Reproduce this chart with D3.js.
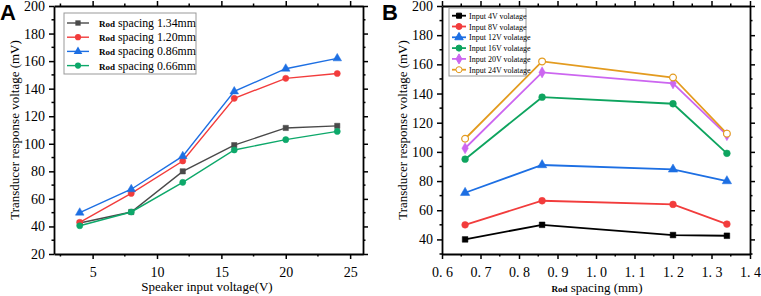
<!DOCTYPE html>
<html>
<head>
<meta charset="utf-8">
<style>
  body, html { margin: 0; padding: 0; background: #fff; }
  svg text { font-family: "Liberation Serif", "DejaVu Serif", serif; fill: #000; }
  .tick-label { font-size: 14px; }
  .axis-title { font-size: 13px; }
  .panel-letter { font-family: "Liberation Sans", Arial, sans-serif; font-weight: bold; font-size: 22px; }
  .rod { font-weight: bold; font-size: 9px; }
</style>
<script src="https://d3js.org/d3.v7.min.js"></script>
</head>
<body>
<svg width="761" height="296"></svg>
<script>
// ---- panel A data: response vs speaker input voltage
const voltages = [4, 8, 12, 16, 20, 24];
const spacingNames = ["1.34mm", "1.20mm", "0.86mm", "0.66mm"];
const sp134 = [42.5, 50.5, 80, 99, 111.5, 113];
const sp120 = [43, 64, 87.5, 133, 147.5, 151];
const sp086 = [50, 67, 91, 138, 154.5, 162];
const sp066 = [40.5, 50.5, 72, 95.5, 103, 109];

// ---- panel B data: response vs rod spacing
const spacings = [0.66, 0.86, 1.2, 1.34];
const inputNames = ["Input 4V volatage", "Input 8V volatage", "Input 12V volatage",
                    "Input 16V volatage", "Input 20V volatage", "Input 24V volatage"];
const in4 = [40, 50, 43, 42.5];
const in8 = [50, 66.5, 64, 50.5];
const in12 = [72, 91, 88, 80];
const in16 = [95, 137.5, 133, 99];
const in20 = [102.5, 154.5, 147, 111.5];
const in24 = [109, 162, 151, 112.5];

// tick values
const aXTicks = [5, 10, 15, 20, 25];
const aYTicks = [20, 40, 60, 80, 100, 120, 140, 160, 180, 200];
const bXTicks = [0.6, 0.7, 0.8, 0.9, 1.0, 1.1, 1.2, 1.3, 1.4];
const bYTicks = [40, 60, 80, 100, 120, 140, 160, 180, 200];

const svg = d3.select("svg");

function drawAxes(x, y, xTicks, xMinor, yTicks, yMinor, xFmt) {
  const g = svg.append("g");
  const [x0, x1] = x.range();
  const [yb, yt] = y.range();
  // minor ticks (all four sides)
  xMinor.forEach(v => {
    g.append("line").attr("x1", x(v)).attr("x2", x(v)).attr("y1", yb).attr("y2", yb + 2.5).attr("stroke", "#000").attr("stroke-width", 1.5);
    g.append("line").attr("x1", x(v)).attr("x2", x(v)).attr("y1", yt).attr("y2", yt - 2.5).attr("stroke", "#000").attr("stroke-width", 1.5);
  });
  yMinor.forEach(v => {
    g.append("line").attr("y1", y(v)).attr("y2", y(v)).attr("x1", x0).attr("x2", x0 - 2.5).attr("stroke", "#000").attr("stroke-width", 1.5);
    g.append("line").attr("y1", y(v)).attr("y2", y(v)).attr("x1", x1).attr("x2", x1 + 2.5).attr("stroke", "#000").attr("stroke-width", 1.5);
  });
  const bottom = g.append("g").attr("transform", `translate(0,${yb})`)
    .call(d3.axisBottom(x).tickValues(xTicks).tickSize(5).tickSizeOuter(0).tickFormat(xFmt));
  const top = g.append("g").attr("transform", `translate(0,${yt})`)
    .call(d3.axisTop(x).tickValues(xTicks).tickSize(5).tickSizeOuter(0).tickFormat(""));
  const left = g.append("g").attr("transform", `translate(${x0},0)`)
    .call(d3.axisLeft(y).tickValues(yTicks).tickSize(5).tickSizeOuter(0));
  const right = g.append("g").attr("transform", `translate(${x1},0)`)
    .call(d3.axisRight(y).tickValues(yTicks).tickSize(5).tickSizeOuter(0).tickFormat(""));
  [bottom, top, left, right].forEach(a => {
    a.select(".domain").attr("stroke-width", 1.8);
    a.selectAll(".tick line").attr("stroke-width", 1.5);
    a.selectAll("text").attr("class", "tick-label").attr("font-family", null).attr("font-size", null);
  });
  bottom.selectAll("text").attr("dy", "1.1em");
  left.selectAll("text").attr("dx", "-1px");
}

function drawSeries(x, y, xs, ys, color, shape, size, width, hollow) {
  const line = d3.line().x((d, i) => x(xs[i])).y(d => y(d));
  svg.append("path").datum(ys).attr("d", line)
    .attr("fill", "none").attr("stroke", color).attr("stroke-width", width);
  svg.append("g").selectAll("path").data(ys).join("path")
    .attr("transform", (d, i) => `translate(${x(xs[i])},${y(d)})`)
    .attr("d", d3.symbol().type(shape).size(size))
    .attr("fill", hollow ? "#fff" : color)
    .attr("stroke", color).attr("stroke-width", hollow ? 1.2 : 0.5);
}

// ================= Panel A =================
const xA = d3.scaleLinear().domain([2, 26]).range([54, 363]);
const yA = d3.scaleLinear().domain([20, 200]).range([254, 6]);
drawAxes(xA, yA, aXTicks, [2.5, 7.5, 12.5, 17.5, 22.5], aYTicks,
  d3.range(30, 200, 20), d => d);

const seriesA = [
  { vals: sp134, color: "#4a4a4a", shape: d3.symbolSquare, size: 28 },
  { vals: sp120, color: "#f23c3c", shape: d3.symbolCircle, size: 30 },
  { vals: sp086, color: "#1d6fe3", shape: d3.symbolTriangle, size: 32 },
  { vals: sp066, color: "#0da86a", shape: d3.symbolCircle, size: 30 }
];
seriesA.forEach(s => drawSeries(xA, yA, voltages, s.vals, s.color, s.shape, s.size, 1.4, false));

// legend A
const legA = svg.append("g").attr("transform", "translate(64,13)");
legA.append("rect").attr("width", 132).attr("height", 61)
  .attr("fill", "#fff").attr("stroke", "#999").attr("stroke-width", 1);
seriesA.forEach((s, i) => {
  const yy = 10 + i * 14.2;
  legA.append("line").attr("x1", 3).attr("x2", 25).attr("y1", yy).attr("y2", yy)
    .attr("stroke", s.color).attr("stroke-width", 1.4);
  legA.append("path").attr("transform", `translate(14,${yy})`)
    .attr("d", d3.symbol().type(s.shape).size(s.size)).attr("fill", s.color);
  const t = legA.append("text").attr("x", 35).attr("y", yy + 4).attr("font-size", "11.8px");
  t.append("tspan").attr("class", "rod").text("Rod");
  t.append("tspan").text(" spacing " + spacingNames[i]);
});

svg.append("text").attr("class", "axis-title").attr("text-anchor", "middle")
  .attr("transform", `translate(19,${(6 + 254) / 2}) rotate(-90)`)
  .text("Transducer response voltage (mV)");
svg.append("text").attr("class", "axis-title").attr("text-anchor", "middle")
  .attr("x", 207).attr("y", 291).text("Speaker input voltage(V)");
svg.append("text").attr("class", "panel-letter").attr("x", 0).attr("y", 20).text("A");

// ================= Panel B =================
const xB = d3.scaleLinear().domain([0.6, 1.4]).range([442, 750]);
const yB = d3.scaleLinear().domain([30, 200]).range([254, 6]);
drawAxes(xB, yB, bXTicks, d3.range(0.65, 1.4, 0.1), bYTicks,
  d3.range(30, 200, 20), d => d.toFixed(1).replace(".", ". "));

const seriesB = [
  { vals: in4, color: "#000000", shape: d3.symbolSquare, size: 32, hollow: false },
  { vals: in8, color: "#f23c3c", shape: d3.symbolCircle, size: 36, hollow: false },
  { vals: in12, color: "#1d6fe3", shape: d3.symbolTriangle, size: 38, hollow: false },
  { vals: in16, color: "#0ea45f", shape: d3.symbolCircle, size: 36, hollow: false },
  { vals: in20, color: "#cc66f0", shape: d3.symbolDiamond, size: 36, hollow: false },
  { vals: in24, color: "#e39b1f", shape: d3.symbolCircle, size: 36, hollow: true }
];
seriesB.forEach(s => drawSeries(xB, yB, spacings, s.vals, s.color, s.shape, s.size, 1.8, s.hollow));

// legend B
const legB = svg.append("g").attr("transform", "translate(449,8)");
legB.append("rect").attr("width", 77).attr("height", 68)
  .attr("fill", "#fff").attr("stroke", "#999").attr("stroke-width", 1);
seriesB.forEach((s, i) => {
  const yy = 7.7 + i * 10.8;
  legB.append("line").attr("x1", 3).attr("x2", 17).attr("y1", yy).attr("y2", yy)
    .attr("stroke", s.color).attr("stroke-width", 1.8);
  legB.append("path").attr("transform", `translate(10,${yy})`)
    .attr("d", d3.symbol().type(s.shape).size(s.size * 0.8))
    .attr("fill", s.hollow ? "#fff" : s.color).attr("stroke", s.color).attr("stroke-width", 1);
  legB.append("text").attr("x", 20).attr("y", yy + 3).attr("font-size", "8px").text(inputNames[i]);
});

svg.append("text").attr("class", "axis-title").attr("text-anchor", "middle")
  .attr("transform", `translate(407,${(6 + 254) / 2}) rotate(-90)`)
  .text("Transducer response voltage (mV)");
const xtB = svg.append("text").attr("class", "axis-title").attr("text-anchor", "middle")
  .attr("x", 597).attr("y", 292);
xtB.append("tspan").attr("class", "rod").text("Rod");
xtB.append("tspan").text(" spacing (mm)");
svg.append("text").attr("class", "panel-letter").attr("x", 382).attr("y", 20).text("B");
</script>
</body>
</html>
